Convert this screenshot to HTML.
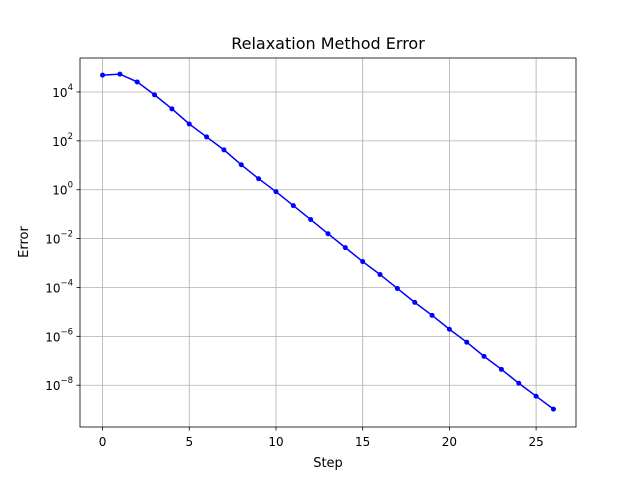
<!DOCTYPE html>
<html><head><meta charset="utf-8"><style>
body{margin:0;background:#fff;}
svg text{font-family:"DejaVu Sans","Liberation Sans",sans-serif;fill:#000;}
</style></head><body>
<svg id="chart" width="640" height="480">
<rect width="640" height="480" fill="#fff"/>
<g id="grid"></g><g id="ticks"></g><g id="series"></g>
<rect x="80" y="58" width="496" height="369" fill="none" stroke="#000" stroke-width="0.8"/>
<text x="328" y="49" font-size="16" text-anchor="middle">Relaxation Method Error</text>
<text x="328" y="467" font-size="13" text-anchor="middle">Step</text>
<text x="28" y="242" font-size="13" text-anchor="middle" transform="rotate(-90 28 242)">Error</text>
</svg>
<script>
const steps=[0,1,2,3,4,5,6,7,8,9,10,11,12,13,14,15,16,17,18,19,20,21,22,23,24,25,26];
const logErrors=[4.69,4.73,4.41,3.88,3.31,2.69,2.16,1.63,1.02,0.45,-0.08,-0.65,-1.22,-1.80,-2.37,-2.94,-3.47,-4.04,-4.61,-5.14,-5.71,-6.24,-6.82,-7.35,-7.92,-8.45,-8.98];
const xTicks=[0,5,10,15,20,25];
const yTickExps=[4,2,0,-2,-4,-6,-8];
const NS='http://www.w3.org/2000/svg';
const L=80,R=576,T=58,B=427;
const xMin=-1.3,xMax=27.3,yMin=-9.71,yMax=5.39;
const sx=v=>L+(v-xMin)/(xMax-xMin)*(R-L);
const sy=v=>B-(v-yMin)/(yMax-yMin)*(B-T);
function mk(tag,attrs,parent,text){const e=document.createElementNS(NS,tag);for(const k in attrs)e.setAttribute(k,attrs[k]);if(text!==undefined)e.textContent=text;document.getElementById(parent).appendChild(e);return e;}
xTicks.forEach(t=>{const x=sx(t);
const g=mk('line',{x1:x,x2:x,y1:T,y2:B,stroke:'#b0b0b0','stroke-width':0.8},'grid');


const tk=mk('line',{x1:x,x2:x,y1:B,y2:B+3.5,stroke:'#000','stroke-width':0.8},'ticks');


const lb=mk('text',{x:x,y:B+19,'font-size':12,'text-anchor':'middle'},'ticks',String(t));


});
yTickExps.forEach(e=>{const y=sy(e);
const g=mk('line',{x1:L,x2:R,y1:y,y2:y,stroke:'#b0b0b0','stroke-width':0.8},'grid');


const tk=mk('line',{x1:L-3.5,x2:L,y1:y,y2:y,stroke:'#000','stroke-width':0.8},'ticks');


const lb=mk('text',{x:L-7,y:y+5,'font-size':12,'text-anchor':'end'},'ticks');


const b=document.createElementNS(NS,'tspan');b.textContent='10';lb.appendChild(b);
const s=document.createElementNS(NS,'tspan');s.setAttribute('dy','-7');s.setAttribute('font-size','8.5');s.textContent=(e<0?'\u2212'+(-e):String(e));lb.appendChild(s);
});
const pts=steps.map((s,i)=>sx(s)+','+sy(logErrors[i])).join(' ');
const line=mk('polyline',{points:pts,fill:'none',stroke:'#0000ff','stroke-width':1.5},'series');


steps.forEach((s,i)=>{const c=mk('circle',{cx:sx(s),cy:sy(logErrors[i]),r:2.5,fill:'#0000ff'},'series');


});
</script>
</body></html>
